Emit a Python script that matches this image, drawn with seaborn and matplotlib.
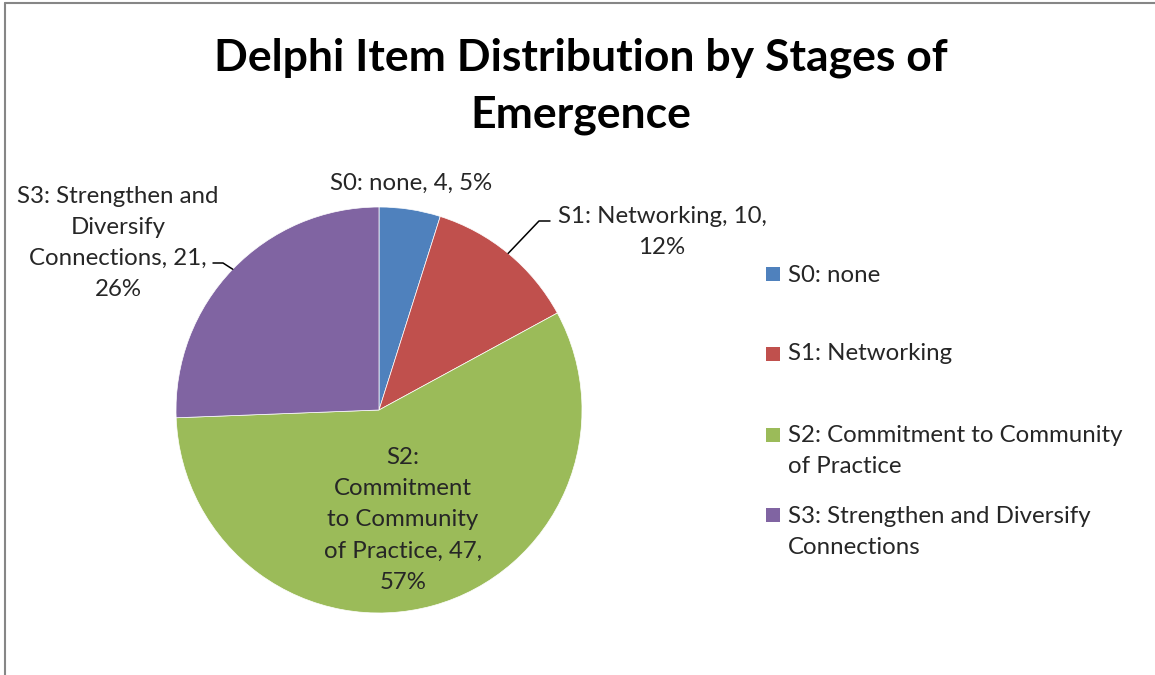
import matplotlib
matplotlib.use("Agg")
import matplotlib.pyplot as plt
from matplotlib.patches import Rectangle
from matplotlib.lines import Line2D
import numpy as np
import seaborn as sns

# Data
categories = ["S0: none", "S1: Networking", "S2: Commitment to Community of Practice",
              "S3: Strengthen and Diversify Connections"]
counts = [4, 10, 47, 21]
legend_labels = ["S0: none", "S1: Networking", "S2: Commitment to Community\nof Practice",
                 "S3: Strengthen and Diversify\nConnections"]
slice_labels = ["S0: none, 4, 5%", "S1: Networking, 10,\n12%",
                "S2:\nCommitment\nto Community\nof Practice, 47,\n57%",
                "S3: Strengthen and\nDiversify\nConnections, 21,\n26%"]
title = "Delphi Item Distribution by Stages of\nEmergence"

sns.set_theme(style="white")
plt.rcParams["font.family"] = ["Lato", "DejaVu Sans"]
colors = sns.color_palette(["#4F81BD", "#C0504D", "#9BBB59", "#8064A2"])

W, H = 1155, 675
fig = plt.figure(figsize=(W / 100, H / 100), dpi=100)
ax = fig.add_axes([0, 0, 1, 1])

def Y(py):
    return H - py

cx, cy, r = 379, Y(410), 203
wedges, _ = ax.pie(counts, colors=colors, startangle=90, counterclock=False,
                   center=(cx, cy), radius=r,
                   wedgeprops=dict(linewidth=0.5, edgecolor="white"))
ax.set_xlim(0, W)
ax.set_ylim(0, H)
ax.set_aspect("equal")
ax.axis("off")

txt_size = 17.3
ls = 1.6

# Title
ax.text(581, Y(86), title, ha="center", va="center", fontsize=32, fontweight="bold",
        color="black", linespacing=1.5)

# Slice labels
ax.text(411, Y(183), slice_labels[0], ha="center", va="center", fontsize=txt_size)
ax.text(662, Y(232), slice_labels[1], ha="center", va="center", fontsize=txt_size,
        linespacing=ls)
ax.text(403, Y(520), slice_labels[2], ha="center", va="center", fontsize=txt_size,
        linespacing=ls)
ax.text(118, Y(243), slice_labels[3], ha="center", va="center", fontsize=txt_size,
        linespacing=ls)

# Leader lines from the wedge rims to the outside labels
def wedge_rim(w):
    ang = np.deg2rad((w.theta1 + w.theta2) / 2)
    return cx + r * np.cos(ang), cy + r * np.sin(ang)

x1, y1 = wedge_rim(wedges[1])
ax.plot([x1, 539, 550], [y1, Y(221), Y(221)], color="black", lw=1.1)
x3, y3 = wedge_rim(wedges[3])
ax.plot([x3, 223, 213], [y3, Y(263), Y(263)], color="black", lw=1.1)

# Legend
leg_rows = [(267, 275), (347, 354), (428, 451), (508, 532)]
for col, lab, (sq_top, ty) in zip(colors, legend_labels, leg_rows):
    ax.add_patch(Rectangle((766, Y(sq_top + 14)), 14, 14, facecolor=col, edgecolor="none"))
    ax.text(788, Y(ty), lab, ha="left", va="center", fontsize=txt_size, linespacing=ls)

# Chart area border
fig.add_artist(Line2D([5 / W, 1], [1 - 3 / H, 1 - 3 / H], color="#868686", lw=1.5))
fig.add_artist(Line2D([5 / W, 5 / W], [0, 1 - 3 / H], color="#868686", lw=1.5))

fig.savefig("out.png", dpi=100, facecolor="white")
